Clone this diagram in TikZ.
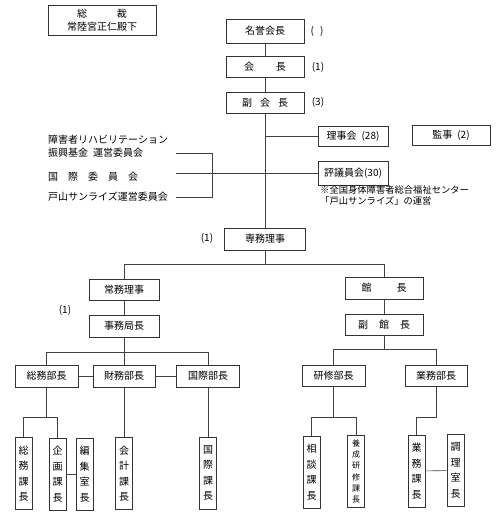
\documentclass[tikz,border=0pt]{standalone}
\usepackage{fontspec}
\setmainfont{Noto Sans CJK JP}
\begin{document}
\begin{tikzpicture}[x=1pt,y=-1pt,
  box/.style={draw=black!80, line width=0.7pt, inner sep=0pt, align=center, font=\fontsize{10}{12}\selectfont},
  vbox/.style={draw=black!80, line width=0.7pt, inner sep=0pt, align=center, minimum width=17pt, minimum height=72pt, font=\fontsize{10}{15.5}\selectfont},
  ln/.style={draw=black!75, line width=0.6pt},
  lbl/.style={inner sep=0pt, font=\fontsize{10}{12}\selectfont}]
\useasboundingbox (0,0) rectangle (500,518);

% top
\node[box, minimum width=108pt, minimum height=30pt, font=\fontsize{10}{12.5}\selectfont] (sosai) at (102,20) {総\hspace{3em}裁\\常陸宮正仁殿下};
\node[box, minimum width=78pt, minimum height=24pt] (meiyo) at (265,31) {名誉会長};
\node[box, minimum width=78pt, minimum height=21pt] (kaicho) at (265,66.5) {会\hspace{2.2em}長};
\node[box, minimum width=78pt, minimum height=21pt] (fuku) at (265,102.5) {副\hspace{0.8em}会\hspace{0.8em}長};
\node[lbl] (p0) at (317,31) {(\hspace{0.6em})};
\node[lbl] (p1) at (318,67) {(1)};
\node[lbl] (p3) at (318,102) {(3)};

\node[box, minimum width=70pt, minimum height=20pt] (riji) at (353,136) {理事会\hspace{0.5em}(28)};
\node[box, minimum width=78pt, minimum height=20pt] (kanji) at (451,135) {監事\hspace{0.5em}(2)};
\node[box, minimum width=70pt, minimum height=24pt] (hyogi) at (353,173) {評議員会(30)};
\node[lbl, anchor=north west, align=left, font=\fontsize{9.3}{11}\selectfont] (note) at (320,185) {※全国身体障害者総合福祉センター\\「戸山サンライズ」の運営};

% left committees
\node[lbl, anchor=west] (l1) at (48,140) {障害者リハビリテーション};
\node[lbl, anchor=west] (l2) at (48,153) {振興基金\hspace{0.5em}運営委員会};
\node[lbl, anchor=west] (l3) at (48,177) {国\hspace{1em}際\hspace{1em}委\hspace{1em}員\hspace{1em}会};
\node[lbl, anchor=west] (l4) at (48,197) {戸山サンライズ運営委員会};
\coordinate (c1) at (176,153);
\coordinate (c2) at (176,173);
\coordinate (c3) at (176,197);
\coordinate (bt) at (212,153);
\coordinate (bb) at (212,197);

\node[box, minimum width=81pt, minimum height=22pt] (senmu) at (265,239) {専務理事};
\node[lbl] (p4) at (207,238) {(1)};

% left branch
\node[box, minimum width=70pt, minimum height=21pt] (jomu) at (124,289.5) {常務理事};
\node[box, minimum width=70pt, minimum height=22pt] (jimu) at (124,326) {事務局長};
\node[lbl] (p5) at (65,310) {(1)};
\node[box, minimum width=63pt, minimum height=22pt] (soumub) at (46.5,376) {総務部長};
\node[box, minimum width=62pt, minimum height=22pt] (zaimub) at (124,376) {財務部長};
\node[box, minimum width=63pt, minimum height=22pt] (kokusaib) at (208,376) {国際部長};

\node[vbox] (soumuka) at (23.5,473.5) {総\\務\\課\\長};
\node[vbox] (kikaku) at (57.5,474) {企\\画\\課\\長};
\node[vbox] (henshu) at (84.5,474) {編\\集\\室\\長};
\node[vbox] (kaikei) at (124,473.5) {会\\計\\課\\長};
\node[vbox] (kokusaika) at (208,473) {国\\際\\課\\長};

% right branch
\node[box, minimum width=78pt, minimum height=22pt] (kancho) at (384,288) {館\hspace{2.5em}長};
\node[box, minimum width=78pt, minimum height=21pt] (fukukan) at (384,324.5) {副\hspace{1.1em}館\hspace{1.1em}長};
\node[box, minimum width=63pt, minimum height=21pt] (kenshu) at (333.5,376) {研修部長};
\node[box, minimum width=62pt, minimum height=21pt] (gyomub) at (436,376) {業務部長};

\node[vbox] (soudan) at (311.5,472) {相\\談\\課\\長};
\node[vbox, font=\fontsize{8}{11.3}\selectfont] (yosei) at (356,471.5) {養\\成\\研\\修\\課\\長};
\node[vbox] (gyomuka) at (416.5,471) {業\\務\\課\\長};
\node[vbox] (chori) at (455.5,470.5) {調\\理\\室\\長};

% connectors top
\draw[ln] (meiyo) -- (kaicho);
\draw[ln] (kaicho) -- (fuku);
\draw[ln] (fuku.south) -- (senmu.north);
\draw[ln] (fuku.south |- riji.west) -- (riji.west);
\draw[ln] (c1) -- (bt) -- (bb) -- (c3);
\draw[ln] (c2) -- (hyogi.west);

% senmu branch
\coordinate (br) at (265,264);
\draw[ln] (senmu.south) -- (br);
\draw[ln] (jomu.north) -- (jomu.north |- br) -- (kancho.north |- br) -- (kancho.north);

% left
\draw[ln] (jomu) -- (jimu);
\coordinate (b2) at (124,352);
\draw[ln] (jimu.south) -- (zaimub.north);
\draw[ln] (soumub.north) -- (soumub.north |- b2) -- (kokusaib.north |- b2) -- (kokusaib.north);
\draw[ln] (soumub) -- (zaimub);
\draw[ln] (zaimub) -- (kokusaib);
\coordinate (b3) at (46.5,417);
\draw[ln] (soumub.south) -- (b3);
\draw[ln] (soumuka.north) -- (soumuka.north |- b3) -- (kikaku.north |- b3) -- (kikaku.north);
\draw[ln] (kikaku) -- (henshu);
\draw[ln] (zaimub.south) -- (kaikei.north);
\draw[ln] (kokusaib.south) -- (kokusaika.north);

% right
\draw[ln] (kancho) -- (fukukan);
\coordinate (b4) at (384,349);
\draw[ln] (fukukan.south) -- (b4);
\draw[ln] (kenshu.north) -- (kenshu.north |- b4) -- (gyomub.north |- b4) -- (gyomub.north);
\coordinate (b5) at (333.5,417);
\draw[ln] (kenshu.south) -- (b5);
\draw[ln] (soudan.north) -- (soudan.north |- b5) -- (yosei.north |- b5) -- (yosei.north);
\coordinate (b6) at (436,417);
\draw[ln] (gyomub.south) -- (b6) -- (gyomuka.north |- b6) -- (gyomuka.north);
\draw[ln] (gyomuka) -- (chori);
\end{tikzpicture}
\end{document}
